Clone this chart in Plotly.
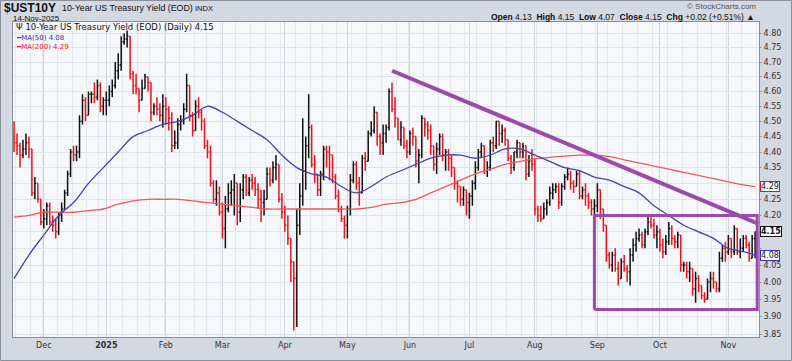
import math
import pandas as pd
import plotly.graph_objects as go

# ---------------- data ----------------
holidays = ["2024-11-28", "2024-12-25", "2025-01-01", "2025-01-09", "2025-01-20",
            "2025-02-17", "2025-04-18", "2025-05-26", "2025-06-19", "2025-07-04",
            "2025-09-01"]
first_open = 4.45
last_change_pct = 0.51

close = [
    # Nov 2024
    4.43, 4.42, 4.39, 4.41, 4.43, 4.41, 4.27, 4.30, 4.25, 4.18,
    # Dec
    4.19, 4.23, 4.18, 4.17, 4.15, 4.20, 4.22, 4.27, 4.33, 4.40, 4.39, 4.40, 4.50, 4.57, 4.52,
    4.59, 4.59, 4.58, 4.62, 4.55, 4.57,
    # Jan 2025
    4.57, 4.60, 4.62, 4.67, 4.69, 4.77, 4.78, 4.79, 4.66, 4.62, 4.61, 4.57, 4.61, 4.65, 4.63,
    4.53, 4.55, 4.54, 4.52, 4.55,
    # Feb
    4.54, 4.51, 4.42, 4.43, 4.49, 4.50, 4.54, 4.62, 4.52, 4.47, 4.55, 4.53, 4.50, 4.42, 4.40,
    4.30, 4.25, 4.27, 4.21,
    # Mar
    4.16, 4.22, 4.27, 4.28, 4.30, 4.21, 4.28, 4.32, 4.27, 4.31, 4.30, 4.28, 4.25, 4.24, 4.25,
    4.33, 4.31, 4.35, 4.36, 4.25, 4.21,
    # Apr
    4.17, 4.13, 4.06, 4.01, 4.17, 4.26, 4.34, 4.42, 4.48, 4.36, 4.33, 4.28, 4.33, 4.41, 4.40,
    4.39, 4.32, 4.26, 4.22, 4.19, 4.17,
    # May
    4.22, 4.31, 4.36, 4.30, 4.27, 4.38, 4.37, 4.46, 4.47, 4.53, 4.45, 4.43, 4.46, 4.48, 4.60,
    4.54, 4.51, 4.44, 4.48, 4.42, 4.40,
    # Jun
    4.46, 4.45, 4.37, 4.39, 4.51, 4.49, 4.47, 4.42, 4.36, 4.41, 4.45, 4.39, 4.40, 4.38, 4.35,
    4.30, 4.29, 4.25, 4.28, 4.24,
    # Jul
    4.26, 4.30, 4.35, 4.40, 4.42, 4.34, 4.35, 4.43, 4.42, 4.50, 4.46, 4.47, 4.44, 4.38, 4.35,
    4.40, 4.43, 4.40, 4.42, 4.33, 4.37, 4.36,
    # Aug
    4.22, 4.20, 4.19, 4.22, 4.24, 4.27, 4.28, 4.29, 4.24, 4.29, 4.32, 4.33, 4.30, 4.29, 4.33,
    4.26, 4.28, 4.26, 4.24, 4.22, 4.23,
    # Sep
    4.28, 4.22, 4.17, 4.08, 4.05, 4.08, 4.04, 4.01, 4.06, 4.04, 4.03, 4.08, 4.11, 4.13, 4.14,
    4.11, 4.15, 4.18, 4.17, 4.14, 4.15,
    # Oct
    4.11, 4.09, 4.12, 4.16, 4.13, 4.12, 4.14, 4.05, 4.05, 4.03, 4.04, 3.98, 4.01, 3.99, 3.96,
    3.95, 4.00, 4.01, 4.00, 3.98, 4.07, 4.10, 4.09,
    # Nov 2025
    4.13, 4.09, 4.16, 4.09, 4.10, 4.13, 4.11, 4.07, 4.13, 4.15,
]

high = [
    4.50, 4.46, 4.43, 4.44, 4.46, 4.45, 4.39, 4.32, 4.30, 4.25,
    4.22, 4.24, 4.24, 4.20, 4.19, 4.21, 4.24, 4.28, 4.34, 4.41, 4.42, 4.42, 4.52, 4.59, 4.58,
    4.60, 4.60, 4.63, 4.64, 4.63, 4.58,
    4.60, 4.62, 4.64, 4.70, 4.73, 4.79, 4.80, 4.81, 4.78, 4.67, 4.66, 4.60, 4.64, 4.66, 4.65,
    4.61, 4.56, 4.58, 4.56, 4.59,
    4.58, 4.55, 4.53, 4.47, 4.51, 4.52, 4.56, 4.66, 4.62, 4.53, 4.57, 4.58, 4.54, 4.51, 4.44,
    4.42, 4.31, 4.31, 4.29,
    4.24, 4.26, 4.30, 4.31, 4.33, 4.30, 4.30, 4.33, 4.33, 4.32, 4.33, 4.32, 4.30, 4.28, 4.28,
    4.35, 4.35, 4.37, 4.39, 4.36, 4.27,
    4.23, 4.20, 4.10, 4.05, 4.22, 4.30, 4.51, 4.45, 4.59, 4.49, 4.39, 4.33, 4.34, 4.42, 4.42,
    4.42, 4.39, 4.33, 4.28, 4.23, 4.20,
    4.23, 4.33, 4.37, 4.37, 4.32, 4.39, 4.40, 4.47, 4.50, 4.55, 4.53, 4.46, 4.49, 4.49, 4.61,
    4.63, 4.58, 4.50, 4.50, 4.48, 4.44,
    4.47, 4.48, 4.45, 4.41, 4.52, 4.51, 4.50, 4.49, 4.41, 4.43, 4.46, 4.46, 4.41, 4.41, 4.39,
    4.35, 4.31, 4.29, 4.29, 4.28,
    4.27, 4.31, 4.37, 4.41, 4.43, 4.42, 4.37, 4.44, 4.45, 4.50, 4.50, 4.49, 4.48, 4.43, 4.39,
    4.40, 4.44, 4.43, 4.43, 4.42, 4.39, 4.41,
    4.38, 4.23, 4.23, 4.24, 4.25, 4.29, 4.30, 4.30, 4.30, 4.30, 4.33, 4.35, 4.34, 4.31, 4.34,
    4.34, 4.29, 4.30, 4.27, 4.25, 4.25,
    4.30, 4.25, 4.21, 4.17, 4.09, 4.09, 4.10, 4.06, 4.07, 4.08, 4.05, 4.10, 4.13, 4.15, 4.16,
    4.15, 4.16, 4.20, 4.20, 4.19, 4.17,
    4.16, 4.13, 4.14, 4.18, 4.17, 4.14, 4.15, 4.14, 4.06, 4.06, 4.06, 4.04, 4.03, 4.02, 3.99,
    3.97, 4.01, 4.03, 4.03, 4.00, 4.09, 4.11, 4.12,
    4.14, 4.13, 4.17, 4.16, 4.13, 4.14, 4.14, 4.12, 4.14, 4.15,
]

low = [
    4.40, 4.39, 4.35, 4.38, 4.39, 4.38, 4.26, 4.25, 4.24, 4.17,
    4.16, 4.17, 4.17, 4.15, 4.13, 4.14, 4.18, 4.22, 4.26, 4.32, 4.37, 4.37, 4.38, 4.49, 4.50,
    4.52, 4.56, 4.56, 4.57, 4.53, 4.52,
    4.52, 4.55, 4.58, 4.61, 4.64, 4.67, 4.76, 4.75, 4.64, 4.59, 4.59, 4.53, 4.57, 4.61, 4.60,
    4.50, 4.52, 4.52, 4.50, 4.48,
    4.49, 4.47, 4.40, 4.41, 4.41, 4.47, 4.49, 4.53, 4.50, 4.45, 4.47, 4.51, 4.47, 4.41, 4.38,
    4.29, 4.24, 4.23, 4.20,
    4.13, 4.10, 4.21, 4.23, 4.20, 4.17, 4.18, 4.25, 4.26, 4.26, 4.28, 4.26, 4.22, 4.18, 4.20,
    4.25, 4.29, 4.30, 4.31, 4.24, 4.19,
    4.15, 4.11, 4.00, 3.86, 3.87, 4.14, 4.23, 4.28, 4.38, 4.35, 4.30, 4.26, 4.26, 4.31, 4.35,
    4.31, 4.30, 4.25, 4.21, 4.18, 4.13,
    4.13, 4.20, 4.30, 4.28, 4.23, 4.27, 4.34, 4.37, 4.45, 4.46, 4.42, 4.39, 4.39, 4.43, 4.47,
    4.53, 4.48, 4.44, 4.42, 4.41, 4.38,
    4.39, 4.42, 4.35, 4.30, 4.38, 4.45, 4.44, 4.39, 4.34, 4.33, 4.39, 4.37, 4.34, 4.34, 4.32,
    4.28, 4.24, 4.23, 4.23, 4.20,
    4.19, 4.23, 4.28, 4.34, 4.38, 4.33, 4.32, 4.34, 4.40, 4.41, 4.42, 4.43, 4.42, 4.37, 4.33,
    4.34, 4.38, 4.38, 4.38, 4.31, 4.32, 4.34,
    4.20, 4.18, 4.18, 4.19, 4.20, 4.23, 4.25, 4.27, 4.22, 4.23, 4.28, 4.31, 4.28, 4.27, 4.29,
    4.25, 4.25, 4.23, 4.22, 4.20, 4.20,
    4.21, 4.19, 4.15, 4.06, 4.04, 4.03, 4.03, 3.99, 4.01, 4.03, 4.00, 3.99, 4.06, 4.09, 4.12,
    4.10, 4.10, 4.14, 4.16, 4.13, 4.10,
    4.09, 4.07, 4.08, 4.11, 4.11, 4.10, 4.10, 4.03, 4.03, 4.01, 4.00, 3.96, 3.94, 3.97, 3.95,
    3.94, 3.95, 3.97, 3.98, 3.97, 3.97, 4.06, 4.06,
    4.08, 4.07, 4.08, 4.08, 4.07, 4.09, 4.10, 4.06, 4.07, 4.07,
]

# moving averages read every 5 sessions (last value = final session)
ma_step = 5
ma50 = [4.01, 4.08, 4.14, 4.20, 4.24, 4.30, 4.35, 4.40, 4.45, 4.47,
        4.49, 4.50, 4.52, 4.55, 4.53, 4.50, 4.47, 4.44, 4.39, 4.35,
        4.33, 4.32, 4.29, 4.27, 4.29, 4.32, 4.34, 4.36, 4.38, 4.39,
        4.39, 4.38, 4.39, 4.41, 4.41, 4.39, 4.37, 4.35, 4.34, 4.32,
        4.31, 4.29, 4.27, 4.23, 4.20, 4.17, 4.15, 4.13, 4.10, 4.09,
        4.08]
ma200 = [4.195, 4.20, 4.21, 4.21, 4.21, 4.215, 4.22, 4.235, 4.245, 4.25,
         4.25, 4.25, 4.245, 4.24, 4.235, 4.23, 4.225, 4.22, 4.22, 4.22,
         4.22, 4.22, 4.22, 4.22, 4.225, 4.235, 4.24, 4.25, 4.27, 4.29,
         4.31, 4.33, 4.345, 4.36, 4.37, 4.378, 4.383, 4.387, 4.39, 4.39,
         4.385, 4.375, 4.365, 4.355, 4.345, 4.335, 4.325, 4.315, 4.305, 4.295,
         4.29]

trend_dates = ["2025-05-22", "2025-11-17"]
trend_values = [4.67, 4.175]
box_dates = ["2025-08-29", "2025-11-17"]
box_values = [3.92, 4.20]

y_ticks = [3.85, 3.90, 3.95, 4.00, 4.05, 4.10, 4.15, 4.20, 4.25, 4.30, 4.35,
           4.40, 4.45, 4.50, 4.55, 4.60, 4.65, 4.70, 4.75, 4.80]
hidden_ticks = [4.10, 4.15, 4.30]   # covered by the price tags in the reference
month_names = ["Dec", "2025", "Feb", "Mar", "Apr", "May", "Jun", "Jul", "Aug", "Sep", "Oct", "Nov"]

# ---------------- derived ----------------
calendar = [d for d in pd.bdate_range("2024-11-15", "2025-11-21")
            if d.strftime("%Y-%m-%d") not in holidays]
n = len(close)
assert len(high) == n and len(low) == n, (n, len(high), len(low))
dates = calendar[:n]
pos = {d.strftime("%Y-%m-%d"): i for i, d in enumerate(calendar)}
idx = list(range(n))
opens = [first_open] + close[:-1]
hi = [max(h, o, c) for h, o, c in zip(high, opens, close)]
lo = [min(l, o, c) for l, o, c in zip(low, opens, close)]
labels = [d.strftime("%d-%b-%Y") for d in dates]

up = [c >= o for c, o in zip(close, opens)]

def subset(arr, flag):
    return [a for a, u in zip(arr, up) if u == flag]

fig = go.Figure()
for flag, col in [(True, "#111111"), (False, "#e8141b")]:
    fig.add_trace(go.Ohlc(
        x=subset(idx, flag), open=subset(opens, flag), high=subset(hi, flag),
        low=subset(lo, flag), close=subset(close, flag), text=subset(labels, flag),
        increasing=dict(line=dict(color=col, width=1.5)),
        decreasing=dict(line=dict(color=col, width=1.5)),
        tickwidth=0.4, showlegend=False, hoverinfo="text+y"))

ma_idx = list(range(0, n, ma_step))
if ma_idx[-1] != n - 1:
    ma_idx.append(n - 1)
fig.add_trace(go.Scatter(x=ma_idx, y=ma200, mode="lines", line=dict(color="#ec5a5a", width=1.3, shape="spline"),
                         showlegend=False, hoverinfo="skip"))
fig.add_trace(go.Scatter(x=ma_idx, y=ma50, mode="lines", line=dict(color="#4444aa", width=1.3, shape="spline"),
                         showlegend=False, hoverinfo="skip"))

purple = "#9b4aa9"
fig.add_trace(go.Scatter(x=[pos[d] for d in trend_dates], y=trend_values, mode="lines",
                         line=dict(color=purple, width=4), showlegend=False, hoverinfo="skip"))
bx0, bx1 = pos[box_dates[0]], pos[box_dates[1]] - 0.3
by0, by1 = box_values
fig.add_trace(go.Scatter(x=[bx0, bx1, bx1, bx0, bx0], y=[by0, by0, by1, by1, by0], mode="lines",
                         line=dict(color=purple, width=3), showlegend=False, hoverinfo="skip"))

# x ticks: first session of each month
month_first = []
seen = set()
for i, d in enumerate(dates):
    key = (d.year, d.month)
    if key not in seen:
        seen.add(key)
        if i > 0:
            month_first.append(i)
tick_text = []
for name in month_names[:len(month_first)]:
    tick_text.append("<b>%s</b>" % name if name.isdigit() else name)

week_first = []
prev_week = None
for i, d in enumerate(calendar[:n + 1]):
    wk = d.isocalendar()[1]
    if wk != prev_week:
        week_first.append(i - 0.5)
        prev_week = wk

# ---------------- layout ----------------
W, H = 792, 361
PL, PR, PT, PB = 13, 759, 22, 337

def px(x):
    return (x - PL) / (PR - PL)

def py(y):
    return (PB - y) / (PB - PT)

fig.update_layout(
    width=W, height=H,
    margin=dict(l=PL, r=W - PR, t=PT, b=H - PB),
    paper_bgcolor="#d4d8e1", plot_bgcolor="#f7f8fc",
    font=dict(family="DejaVu Sans", size=8, color="#333333"),
    xaxis=dict(range=[-0.35, pos[box_dates[1]] + 0.3], tickvals=month_first, ticktext=tick_text,
               showgrid=True, gridcolor="#cfd3dc", gridwidth=1,
               minor=dict(tickvals=week_first, showgrid=True, gridcolor="#e4e7ee", gridwidth=1),
               showline=True, linecolor="#8a8f99", mirror=True, ticks="", zeroline=False,
               rangeslider=dict(visible=False), tickfont=dict(size=8, color="#333333"),
               fixedrange=True),
    yaxis=dict(type="log", range=[math.log10(3.842), math.log10(4.840)], side="right",
               tickvals=y_ticks,
               ticktext=["" if v in hidden_ticks else "%.2f" % v for v in y_ticks],
               showgrid=True, gridcolor="#dfe2ea", gridwidth=1, showline=True, linecolor="#8a8f99",
               mirror=True, ticks="outside", ticklen=2, tickcolor="#9aa0aa", zeroline=False,
               tickfont=dict(size=8, color="#333333")),
)

ann = []
def paper_text(x, y, text, size, color="#111111", anchor="left", family="Liberation Sans"):
    ann.append(dict(xref="paper", yref="paper", x=px(x), y=py(y), text=text, showarrow=False,
                    xanchor=anchor, yanchor="middle", borderpad=0,
                    font=dict(size=size, color=color, family=family)))

last = close[-1]
chg = close[-1] - close[-2]
paper_text(3, 8, "<b>$UST10Y</b>", 12)
paper_text(61, 8.5, "10-Year US Treasury Yield (EOD)", 8.8)
paper_text(194, 9, "INDX", 7.5)
paper_text(12, 18, dates[-1].strftime("%d-%b-%Y"), 8)
paper_text(757, 7, "© StockCharts.com", 8, color="#555555", anchor="right")
paper_text(756, 17,
           "<b>Open</b> %.2f  <b>High</b> %.2f  <b>Low</b> %.2f  <b>Close</b> %.2f  <b>Chg</b> %+.2f (%+.2f%%) ▲"
           % (opens[-1], hi[-1], lo[-1], last, chg, last_change_pct), 8.5, anchor="right")
paper_text(15, 27, "Ψ 10-Year US Treasury Yield (EOD) (Daily) %.2f" % last, 8.5, color="#111111",
           family="DejaVu Sans")
paper_text(15, 37.5, "<span style='color:#3333aa'>━</span>MA(50) %.2f" % ma50[-1], 7, color="#3333aa",
           family="DejaVu Sans")
paper_text(15, 47, "<span style='color:#e8141b'>━</span>MA(200) %.2f" % ma200[-1], 7, color="#e8141b",
           family="DejaVu Sans")

for val, col, bold in [(ma200[-1], "#e8141b", False), (last, "#111111", True), (ma50[-1], "#3333aa", False)]:
    ann.append(dict(xref="paper", yref="y", x=px(760), y=math.log10(val),
                    text=("<b>%.2f</b>" if bold else "%.2f") % val, showarrow=False,
                    xanchor="left", yanchor="middle", bgcolor="#ffffff", bordercolor=col,
                    borderwidth=1, borderpad=0, font=dict(size=8, color="#111111", family="DejaVu Sans")))
fig.update_layout(annotations=ann)

fig.add_shape(type="rect", xref="paper", yref="paper", x0=px(0.5), x1=px(791.5), y0=py(360.5), y1=py(0.5),
              line=dict(color="#8a8f99", width=1), fillcolor="rgba(0,0,0,0)", layer="below")

fig.write_html("out.html", config={"displayModeBar": False},
               post_script="document.body.style.margin='0';document.body.style.overflow='hidden';")
